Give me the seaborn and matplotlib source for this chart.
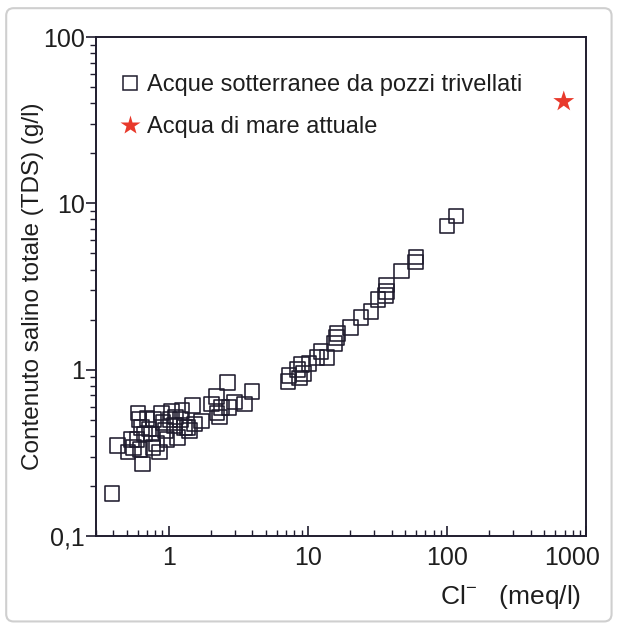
import numpy as np
import pandas as pd
import matplotlib
matplotlib.use("Agg")
import matplotlib.pyplot as plt
import matplotlib.transforms as mtransforms
from matplotlib.lines import Line2D
from matplotlib.patches import FancyBboxPatch
from matplotlib.ticker import FixedLocator, FixedFormatter, LogLocator, NullFormatter
import seaborn as sns

# Groundwater samples from drilled wells: chloride (meq/l) vs total dissolved solids (g/l)
cl_wells = [0.39, 0.43, 0.51, 0.54, 0.56, 0.59, 0.60, 0.61, 0.62, 0.64, 0.65, 0.67,
            0.70, 0.72, 0.75, 0.77, 0.78, 0.82, 0.86, 0.89, 0.91, 0.95, 0.97, 1.02,
            1.05, 1.10, 1.12, 1.16, 1.22, 1.25, 1.30, 1.37, 1.41, 1.48, 1.53, 1.72,
            2.03, 2.20, 2.22, 2.31, 2.39, 2.64, 2.72, 2.96, 3.49, 3.98,
            7.2, 7.3, 8.4, 8.7, 9.0, 9.3, 10.2, 11.6, 12.4, 13.7, 15.6, 16.1, 16.3,
            20.3, 24.1, 28.5, 31.9, 36.2, 36.9, 36.6, 47.2, 59.4, 60.0, 100, 116]
tds_wells = [0.18, 0.35, 0.32, 0.38, 0.34, 0.38, 0.55, 0.50, 0.33, 0.45, 0.27, 0.41,
             0.51, 0.44, 0.41, 0.34, 0.50, 0.36, 0.32, 0.55, 0.48, 0.43, 0.38, 0.50,
             0.56, 0.46, 0.52, 0.39, 0.50, 0.57, 0.45, 0.45, 0.43, 0.61, 0.47, 0.49,
             0.62, 0.69, 0.55, 0.52, 0.59, 0.84, 0.59, 0.64, 0.62, 0.74,
             0.85, 0.92, 1.00, 0.89, 1.07, 0.95, 1.09, 1.18, 1.29, 1.18, 1.44, 1.56, 1.65,
             1.79, 2.06, 2.24, 2.65, 2.80, 2.96, 3.22, 3.92, 4.45, 4.77, 7.3, 8.4]

# Present-day seawater
cl_sea = [690]
tds_sea = [41]

x_ticks = [1, 10, 100, 1000]
x_tick_labels = ["1", "10", "100", "1000"]
y_ticks = [0.1, 1, 10, 100]
y_tick_labels = ["0,1", "1", "10", "100"]

legend_labels = ["Acque sotterranee da pozzi trivellati", "Acqua di mare attuale"]

sns.set_theme(style="white")
plt.rcParams["font.family"] = ["Liberation Sans", "DejaVu Sans"]
plt.rcParams["mathtext.fontset"] = "custom"
plt.rcParams["mathtext.rm"] = "Liberation Sans"

ink = "#1f1c2e"
text_c = "#1e1e1e"
red = "#e8392b"

fig = plt.figure(figsize=(6.19, 6.29), dpi=100)
fig.patch.set_facecolor("white")

# light rounded frame around the figure
frame = FancyBboxPatch((0.010, 0.012), 0.978, 0.975, boxstyle="round,pad=0,rounding_size=0.012",
                       transform=fig.transFigure, facecolor="none", edgecolor="#cfcfcf",
                       linewidth=1.5, zorder=0)
fig.patches.append(frame)

ax = fig.add_axes([0.155, 0.148, 0.792, 0.793])

wells = pd.DataFrame({"cl": cl_wells, "tds": tds_wells})
sea = pd.DataFrame({"cl": cl_sea, "tds": tds_sea})

sns.scatterplot(data=wells, x="cl", y="tds", ax=ax, marker="s", s=110,
                facecolor="none", edgecolor=ink, linewidth=1.15, zorder=3)
sns.scatterplot(data=sea, x="cl", y="tds", ax=ax, marker="*", s=250,
                color=red, edgecolor="none", linewidth=0, zorder=3)

ax.set_xscale("log")
ax.set_yscale("log")
ax.set_xlim(0.3, 1000)
ax.set_ylim(0.1, 100)

ax.xaxis.set_major_locator(FixedLocator(x_ticks))
ax.xaxis.set_major_formatter(FixedFormatter(x_tick_labels))
ax.yaxis.set_major_locator(FixedLocator(y_ticks))
ax.yaxis.set_major_formatter(FixedFormatter(y_tick_labels))
ax.xaxis.set_minor_locator(LogLocator(base=10, subs=np.arange(2, 10)))
ax.yaxis.set_minor_locator(LogLocator(base=10, subs=np.arange(2, 10)))
ax.xaxis.set_minor_formatter(NullFormatter())
ax.yaxis.set_minor_formatter(NullFormatter())

ax.tick_params(axis="x", which="major", direction="in", length=7, width=1.2, color=ink,
               labelsize=18, labelcolor=text_c, pad=7, bottom=True)
ax.tick_params(axis="x", which="minor", direction="in", length=4, width=1.0, color=ink, bottom=True)
ax.tick_params(axis="y", which="major", direction="out", length=7, width=1.2, color=ink,
               labelsize=18, labelcolor=text_c, pad=1, left=True)
ax.tick_params(axis="y", which="minor", direction="out", length=4, width=1.0, color=ink, left=True)

for sp in ax.spines.values():
    sp.set_visible(True)
    sp.set_color(ink)
    sp.set_linewidth(1.4)

ax.set_ylabel("Contenuto salino totale (TDS) (g/l)", fontsize=17.5, color=text_c)
ax.yaxis.set_label_coords(-0.105, 0.5)
ax.set_xlabel(r"Cl$^{\mathregular{-}}$   (meq/l)", fontsize=19, color=text_c, loc="right")
ax.xaxis.set_label_coords(0.99, -0.095)

# keep the last x tick label inside the frame
fig.canvas.draw()
last_label = ax.get_xticklabels()[-1]
last_label.set_transform(last_label.get_transform() +
                         mtransforms.ScaledTranslation(-14 / 100, 0, fig.dpi_scale_trans))

handles = [
    Line2D([], [], linestyle="none", marker="s", markersize=9.5, markerfacecolor="none",
           markeredgecolor=ink, markeredgewidth=1.1),
    Line2D([], [], linestyle="none", marker="*", markersize=15, markerfacecolor=red,
           markeredgecolor="none"),
]
ax.legend(handles, legend_labels, loc="upper left", bbox_to_anchor=(0.03, 0.945),
          frameon=False, fontsize=17, labelspacing=0.85, handlelength=0.8,
          handletextpad=0.35, borderaxespad=0, labelcolor=text_c)

fig.savefig("out.png", dpi=100, facecolor="white")
